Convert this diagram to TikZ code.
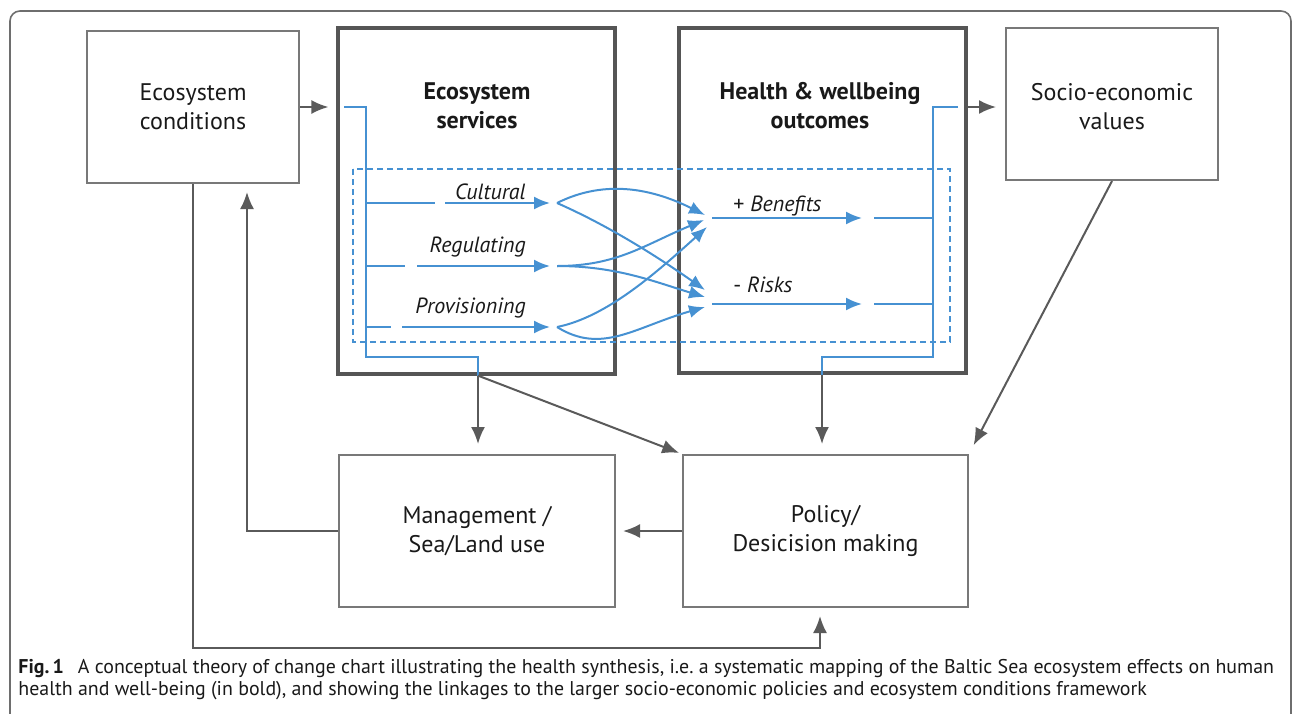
\documentclass[tikz,border=0pt]{standalone}
\usepackage{fontspec}
\setmainfont{PT Sans}
\usetikzlibrary{arrows.meta}

\definecolor{framegray}{RGB}{110,110,110}
\definecolor{boxgray}{RGB}{120,120,120}
\definecolor{heavygray}{RGB}{85,85,85}
\definecolor{arrowgray}{RGB}{90,90,90}
\definecolor{flowblue}{RGB}{70,145,210}
\definecolor{inkblack}{RGB}{25,25,25}

\newcommand{\boxfont}{\fontsize{12}{14.5}\selectfont}
\newcommand{\flowfont}{\fontsize{11}{14}\selectfont}
\newcommand{\capfont}{\fontsize{9.95}{11}\selectfont}

\tikzset{
  thinbox/.style={draw=boxgray, line width=1pt, minimum width=106pt,
    minimum height=76pt, align=center, font=\boxfont, text=inkblack},
  thickbox/.style={draw=heavygray, line width=1.6pt},
  title/.style={align=center, font=\boxfont\bfseries, text=inkblack},
  flowlbl/.style={inner sep=0pt, font=\flowfont\itshape, text=inkblack},
  grayline/.style={draw=arrowgray, line width=1pt},
  grayarrow/.style={grayline, -{Latex[length=8.5pt,width=7pt]}},
  blueline/.style={draw=flowblue, line width=1pt},
  bluearrow/.style={blueline, -{Latex[length=8pt,width=6.5pt]}}
}

\begin{document}
\begin{tikzpicture}[x=0.5pt, y=-0.5pt]

  \useasboundingbox (0,0) rectangle (1293,713);

  % frame
  \draw[framegray, line width=0.8pt, rounded corners=5pt]
  (10,740) -- (10,11) -- (1291,11) -- (1291,740);

  % boxes
  \node[thinbox] (eco) at (193,107) {Ecosystem\\conditions};
  \node[thickbox, minimum width=138.5pt, minimum height=173pt] (ess) at (476.5,201) {};
  \node[thickbox, minimum width=143.5pt, minimum height=172.5pt] (hwo) at (822.5,200.5) {};
  \node[thinbox] (sev) at (1112,104) {};
  \node[align=center, font=\boxfont, text=inkblack] (sevtext) at (1112,107) {Socio-economic\\values};
  \node[thinbox, minimum width=138pt] (mgt) at (477,531) {Management /\\Sea/Land use};
  \node[thinbox, minimum width=142.5pt] (pol) at (825.5,531) {Policy/\\Desicision making};

  \node[title] (esstitle) at (477,106) {Ecosystem\\services};
  \node[title] (hwotitle) at (820,106) {Health \& wellbeing\\outcomes};

  % pathway frame
  \draw[flowblue, line width=0.8pt, dash pattern=on 3pt off 2pt] (353,169) rectangle (950,342);

  % service trunk
  \coordinate (ein) at (344,107);
  \coordinate (etop) at (366,107);
  \coordinate (ebot) at (366,357);
  \coordinate (eout) at (478,357);
  \draw[blueline] (ein) -- (etop) -- (ebot) -- (eout) -- (eout |- ess.south);

  % services
  \foreach \nm/\lbl/\y/\by/\ga/\gb in {cul/Cultural/203/199/435/445,
    reg/Regulating/266/252/405/417, pro/Provisioning/327/313/391/402}
  {
  \draw[blueline] (366,\y) -- (\ga,\y);
  \draw[bluearrow] (\gb,\y) -- (550,\y) coordinate (\nm);
  \coordinate (\nm-out) at (557,\y);
  \node[flowlbl, anchor=base east] (\nm-lbl) at (526,\by) {\lbl};
  }

  % outcome inputs
  \coordinate (ben1) at (705,215);
  \coordinate (ben2) at (704,220);
  \coordinate (ben3) at (707,227);
  \coordinate (rsk1) at (705,290);
  \coordinate (rsk2) at (705,297);
  \coordinate (rsk3) at (705,307);

  % cross links
  \foreach \src/\dst/\ax/\ay/\bx/\by in {cul/ben1/50/-25/-50/-25, cul/rsk1/50/22/-50/-35,
    reg/ben2/60/0/-60/25, reg/rsk2/60/0/-50/-15,
    pro/ben3/50/-10/-50/45, pro/rsk3/45/28/-70/20}
  \draw[bluearrow] (\src-out) .. controls +(\ax,\ay) and +(\bx,\by) .. (\dst);

  % outcomes
  \foreach \nm/\lbl/\y/\by in {ben/{+ \textit{Benefits}}/218/211, rsk/{- \textit{Risks}}/304/292}
  {
  \draw[bluearrow] (712,\y) -- (862,\y);
  \draw[blueline] (874,\y) -- (933,\y);
  \node[flowlbl, font=\flowfont, anchor=base west] (\nm-lbl) at (733,\by) {\lbl};
  }

  % outcome trunk
  \coordinate (hout) at (958,107);
  \coordinate (htop) at (933,107);
  \coordinate (hbot) at (933,357);
  \coordinate (hdown) at (822,357);
  \draw[blueline] (hout) -- (htop) -- (hbot) -- (hdown) -- (hdown |- hwo.south);

  % links between boxes
  \draw[grayarrow, shorten >=4pt] (eco.east) -- (eco.east -| ess.west);
  \draw[grayarrow, shorten >=4.5pt] (hwo.east |- hout) -- (sev.west |- hout);
  \draw[grayarrow, shorten >=5pt] (eout |- ess.south) -- (eout |- mgt.north);
  \draw[grayarrow, shorten >=1.5pt] (eout |- ess.south) -- (pol.north west);
  \draw[grayarrow, shorten >=5pt] (hdown |- hwo.south) -- (hdown |- pol.north);
  \draw[grayarrow, shorten >=5pt] (sev.south) -- (pol.north east);
  \draw[grayarrow, shorten >=3.5pt] (pol.west) -- (mgt.east);

  % feedback loops
  \coordinate (mgtback) at (247,183);
  \coordinate (polback) at (820,648);
  \draw[grayarrow, shorten >=4.5pt] (mgt.west) -| (mgtback);
  \draw[grayarrow, shorten >=4pt] (eco.south) |- (polback) -- (polback |- pol.south);

  % caption (base = last line)
  \node[anchor=base west, inner sep=0pt, align=left, font=\capfont, text=inkblack] (cap) at (18,695)
  {\textbf{Fig.\,1}\hspace{0.7em}A conceptual theory of change chart illustrating the health synthesis, i.e.\ a systematic mapping of the Baltic Sea ecosystem effects on human\\
  health and well-being (in bold), and showing the linkages to the larger socio-economic policies and ecosystem conditions framework};

\end{tikzpicture}
\end{document}
